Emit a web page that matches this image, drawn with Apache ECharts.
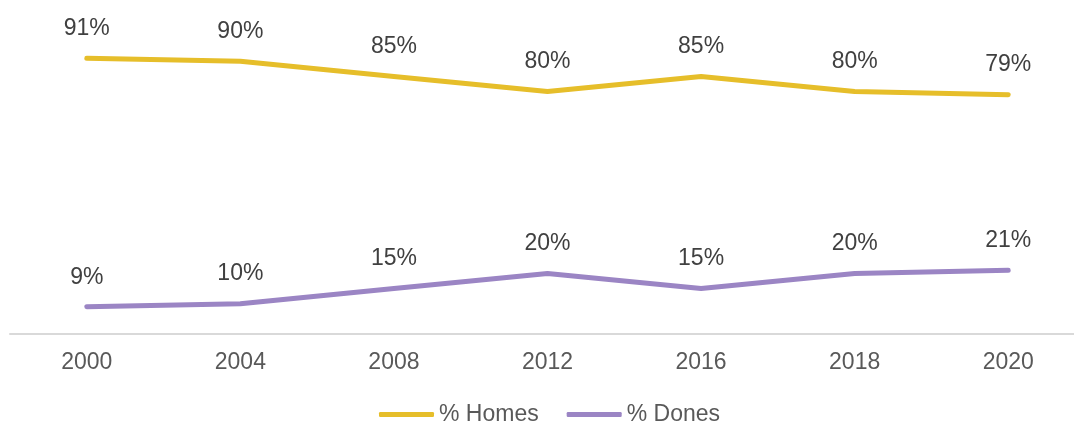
<!DOCTYPE html>
<html>
<head>
<meta charset="utf-8">
<script src="https://cdn.jsdelivr.net/npm/echarts@6/dist/echarts.min.js"></script>
<style>
html, body { margin: 0; padding: 0; background: #fff; }
#chart { width: 1074px; height: 424px; }
</style>
</head>
<body>
<div id="chart"></div>
<script>
var years = ["2000", "2004", "2008", "2012", "2016", "2018", "2020"];
var homes = [91, 90, 85, 80, 85, 80, 79];
var dones = [9, 10, 15, 20, 15, 20, 21];

var chart = echarts.init(document.getElementById("chart"));

var labelStyle = {
	show: true,
	position: "top",
	distance: 18,
	formatter: "{c}%",
	color: "#404040",
	fontSize: 23,
	fontFamily: "Liberation Sans"
};

chart.setOption({
	animation: false,
	grid: { left: 10, top: 31, width: 1075, height: 303, outerBoundsMode: "none" },
	legend: {
		left: 374,
		top: 398,
		itemWidth: 55,
		itemHeight: 5,
		itemGap: 28,
		icon: "roundRect",
		textStyle: { color: "#595959", fontSize: 23, fontFamily: "Liberation Sans" },
		data: ["% Homes", "% Dones"]
	},
	xAxis: {
		type: "category",
		data: years,
		axisLine: { lineStyle: { color: "#d9d9d9", width: 2 } },
		axisTick: { show: false },
		axisLabel: { color: "#595959", fontSize: 23, fontFamily: "Liberation Sans", margin: 17 }
	},
	yAxis: {
		type: "value",
		min: 0,
		max: 100,
		show: false,
		splitLine: { show: false }
	},
	series: [
		{
			name: "% Homes",
			type: "line",
			data: homes,
			symbol: "circle",
			symbolSize: 0.1,
			itemStyle: { color: "#E6BE2A" },
			lineStyle: { color: "#E6BE2A", width: 5, cap: "round" },
			label: labelStyle
		},
		{
			name: "% Dones",
			type: "line",
			data: dones,
			symbol: "circle",
			symbolSize: 0.1,
			itemStyle: { color: "#9B85C4" },
			lineStyle: { color: "#9B85C4", width: 5, cap: "round" },
			label: labelStyle
		}
	]
});
</script>
</body>
</html>
